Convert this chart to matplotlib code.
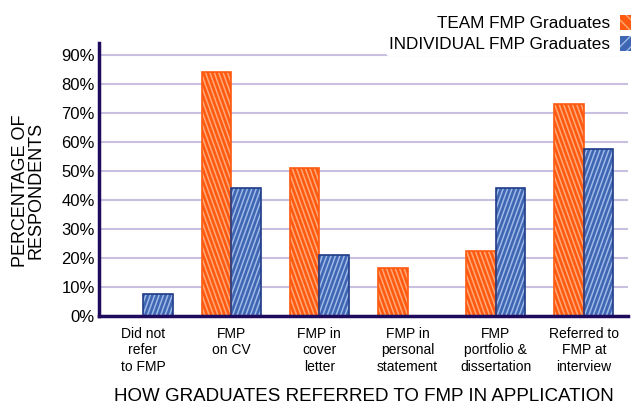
import matplotlib
matplotlib.use("Agg")
import matplotlib.pyplot as plt
import numpy as np
from matplotlib.patches import Patch
from matplotlib.collections import LineCollection
from matplotlib.transforms import IdentityTransform

plt.rcParams["font.family"] = ["Liberation Sans", "DejaVu Sans"]

categories = ["Did not\nrefer\nto FMP", "FMP\non CV", "FMP in\ncover\nletter",
              "FMP in\npersonal\nstatement", "FMP\nportfolio &\ndissertation",
              "Referred to\nFMP at\ninterview"]
team = [0, 84, 51, 16.5, 22.5, 73]
individual = [7.5, 44, 21, 0, 44, 57.5]
yticks = [0, 10, 20, 30, 40, 50, 60, 70, 80, 90]

orange, orange_hatch = "#FF5A0F", "#FFA878"
blue, blue_hatch, blue_edge = "#3E66B3", "#9FB8E6", "#1F3C88"
navy = "#1E0B5E"

fig = plt.figure(figsize=(6.34, 4.08), dpi=100)
ax = fig.add_axes([0.156, 0.2255, 0.8345, 0.669])

x = np.arange(len(categories))
w = 0.335
ax.set_xlim(-0.5, 5.5)
ax.set_ylim(0, 94.1)


def striped_bars(xs, vals, face, scol, edge, slope):
    # slope: horizontal pixel shift per pixel of height (sign sets direction)
    vals = np.array(vals, dtype=float)
    keep = vals > 0
    bars = ax.bar(xs[keep], vals[keep], w, color=face, edgecolor="none",
                  zorder=2)
    for b in bars:
        (x0, y0), (x1, y1) = ax.transData.transform(
            [(b.get_x(), 0), (b.get_x() + b.get_width(), b.get_height())])
        h = y1 - y0
        segs = []
        for xs0 in np.arange(x0 - abs(slope) * h - 10, x1 + abs(slope) * h + 10, 4.4):
            segs.append([(xs0, y0), (xs0 + slope * h, y1)])
        lc = LineCollection(segs, colors=scol, linewidths=1.1,
                            transform=IdentityTransform(), zorder=3)
        ax.add_collection(lc, autolim=False)
        lc.set_clip_path(b)
        ax.bar(b.get_x() + b.get_width() / 2, b.get_height(), w,
               facecolor="none", edgecolor=edge, lw=1.2, zorder=4)


striped_bars(x - w / 2, team, orange, orange_hatch, orange, -0.36)
striped_bars(x + w / 2, individual, blue, blue_hatch, blue_edge, 0.36)

ax.set_xlim(-0.5, 5.5)
ax.set_ylim(0, 94.1)
ax.set_yticks(yticks)
ax.set_yticklabels([f"{t}%" for t in yticks], fontsize=12)
ax.set_xticks(x)
ax.set_xticklabels(categories, fontsize=10)
ax.tick_params(length=0, pad=3)
ax.tick_params(axis="x", pad=8)

ax.grid(axis="y", color="#C9C0E0", lw=1.5, zorder=0)
ax.set_axisbelow(True)
for s in ["top", "right"]:
    ax.spines[s].set_visible(False)
for s in ["left", "bottom"]:
    ax.spines[s].set_color(navy)
    ax.spines[s].set_linewidth(2.5)
    ax.spines[s].set_zorder(5)

ax.set_xlabel("HOW GRADUATES REFERRED TO FMP IN APPLICATION", fontsize=13.5)
ax.xaxis.set_label_coords(0.5, -0.265)
ax.set_ylabel("PERCENTAGE OF\nRESPONDENTS", fontsize=13, linespacing=0.95)
ax.yaxis.set_label_coords(-0.102, 0.46)

handles = [
    Patch(facecolor=orange, edgecolor=orange_hatch, hatch="\\\\\\", lw=0),
    Patch(facecolor=blue, edgecolor=blue_hatch, hatch="///", lw=0),
]
leg = fig.legend(handles, ["TEAM FMP Graduates", "INDIVIDUAL FMP Graduates"],
                 loc="upper right", bbox_to_anchor=(1.0, 0.972),
                 markerfirst=False, frameon=True, fontsize=12.3,
                 handlelength=0.6, handleheight=1.0, handletextpad=0.6,
                 labelspacing=0.25, borderpad=0.2, borderaxespad=0.0)
leg.get_frame().set_edgecolor("none")
leg.get_frame().set_facecolor("white")
leg.get_frame().set_alpha(1.0)
leg.set_zorder(10)

fig.savefig("out.png", dpi=100)
